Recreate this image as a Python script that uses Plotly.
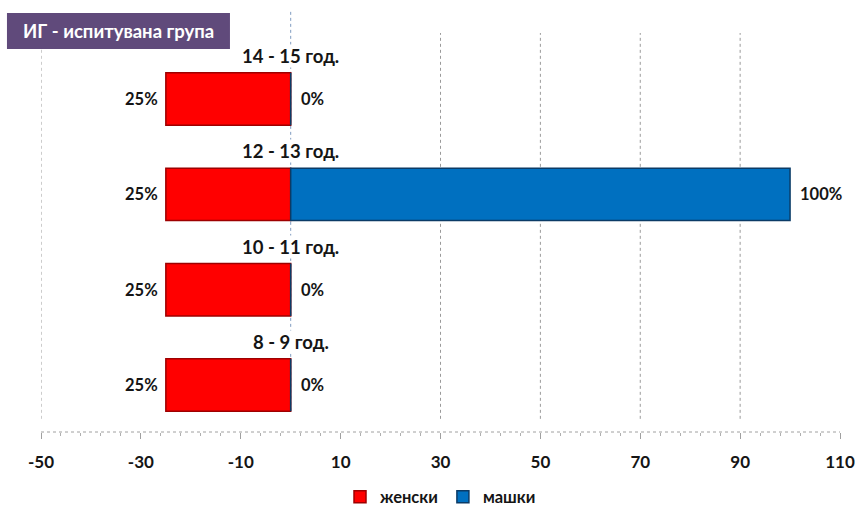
import plotly.graph_objects as go

# Age groups, bottom to top
age_groups = ["8 - 9 год.", "10 - 11 год.", "12 - 13 год.", "14 - 15 год."]
female_pct = [25, 25, 25, 25]   # женски (drawn to the left of zero)
male_pct = [0, 0, 100, 0]       # машки

series_names = ["женски", "машки"]
x_ticks = [-50, -30, -10, 10, 30, 50, 70, 90, 110]
grid_values = [-50, 30, 50, 70, 90]
title_text = "ИГ - испитувана група"

FONT = "Lato, 'Open Sans', sans-serif"
INK = "#151515"

fig = go.Figure()
fig.add_trace(go.Bar(
    y=age_groups, x=[-v for v in female_pct], orientation="h",
    name=series_names[0], width=0.55,
    marker=dict(color="#FF0000", line=dict(color="#9E0000", width=1.5)),
    hoverinfo="skip",
))
fig.add_trace(go.Bar(
    y=age_groups, x=male_pct, orientation="h",
    name=series_names[1], width=0.55,
    marker=dict(color="#0070C0", line=dict(color="#0B3B66", width=1.5)),
    hoverinfo="skip",
))

annotations = []
for cat, f, m in zip(age_groups, female_pct, male_pct):
    annotations.append(dict(x=-f, y=cat, xref="x", yref="y", text=f"<b>{f}%</b>",
                            showarrow=False, xanchor="right", xshift=-6,
                            font=dict(family=FONT, size=16.5, color=INK)))
    annotations.append(dict(x=m, y=cat, xref="x", yref="y", text=f"<b>{m}%</b>",
                            showarrow=False, xanchor="left", xshift=8,
                            font=dict(family=FONT, size=16.5, color=INK)))
    annotations.append(dict(x=0, y=cat, xref="x", yref="y", text=f"<b>{cat}</b>",
                            showarrow=False, xanchor="center", yshift=43,
                            bgcolor="#FFFFFF", borderpad=0,
                            font=dict(family=FONT, size=18.5, color=INK)))

annotations.append(dict(x=0.097, y=1.005, xref="paper", yref="paper",
                        text=f"<b>{title_text}</b>", showarrow=False,
                        xanchor="center", yanchor="middle",
                        font=dict(family=FONT, size=18.5, color="#FFFFFF")))

shapes = []
for g in grid_values:
    shapes.append(dict(type="line", xref="x", yref="paper", x0=g, x1=g,
                       y0=0.033, y1=1.0, layer="below",
                       line=dict(color="#9A9A9A", width=1, dash="dot")))
# zero line
shapes.append(dict(type="line", xref="x", yref="paper", x0=0, x1=0,
                   y0=0.053, y1=1.053, layer="below",
                   line=dict(color="#7F9CC0", width=1, dash="dot")))
# dotted value axis line
shapes.append(dict(type="line", xref="x", yref="paper", x0=x_ticks[0], x1=x_ticks[-1],
                   y0=0, y1=0, line=dict(color="#A0A0A0", width=1, dash="dot")))
# title box
shapes.append(dict(type="rect", xref="paper", yref="paper",
                   x0=-0.0426, x1=0.2365, y0=0.960, y1=1.050,
                   fillcolor="#604A7B", line=dict(width=0)))

fig.update_layout(
    barmode="relative",
    width=855, height=506,
    margin=dict(l=41, r=15, t=33, b=74, autoexpand=False),
    paper_bgcolor="#FFFFFF", plot_bgcolor="#FFFFFF",
    font=dict(family=FONT, color=INK),
    xaxis=dict(
        range=[-50, 110], tickvals=x_ticks,
        ticktext=[f"<b>{t}</b>" for t in x_ticks],
        tickfont=dict(family=FONT, size=17, color=INK),
        ticklabeloverflow="allow",
        showgrid=False, zeroline=False, showline=False, automargin=False,
        ticks="outside", ticklen=6, tickcolor="#A0A0A0", tickwidth=1,
        minor=dict(dtick=4, tick0=-50, ticks="outside", ticklen=3,
                   tickcolor="#B0B0B0", showgrid=False),
        ticklabelstandoff=9,
    ),
    yaxis=dict(
        range=[-0.493, 3.693], showticklabels=False, showgrid=False,
        zeroline=False, showline=False, ticks="", automargin=False,
        categoryorder="array", categoryarray=age_groups,
    ),
    legend=dict(orientation="h", x=0.5, xanchor="center", y=-0.163,
                yanchor="middle", font=dict(family=FONT, size=16.5, color=INK),
                itemwidth=30, traceorder="normal"),
    annotations=annotations,
    shapes=shapes,
)
fig.for_each_trace(lambda t: t.update(name=f"<b>{t.name}</b>"))

fig.write_html("out.html")
